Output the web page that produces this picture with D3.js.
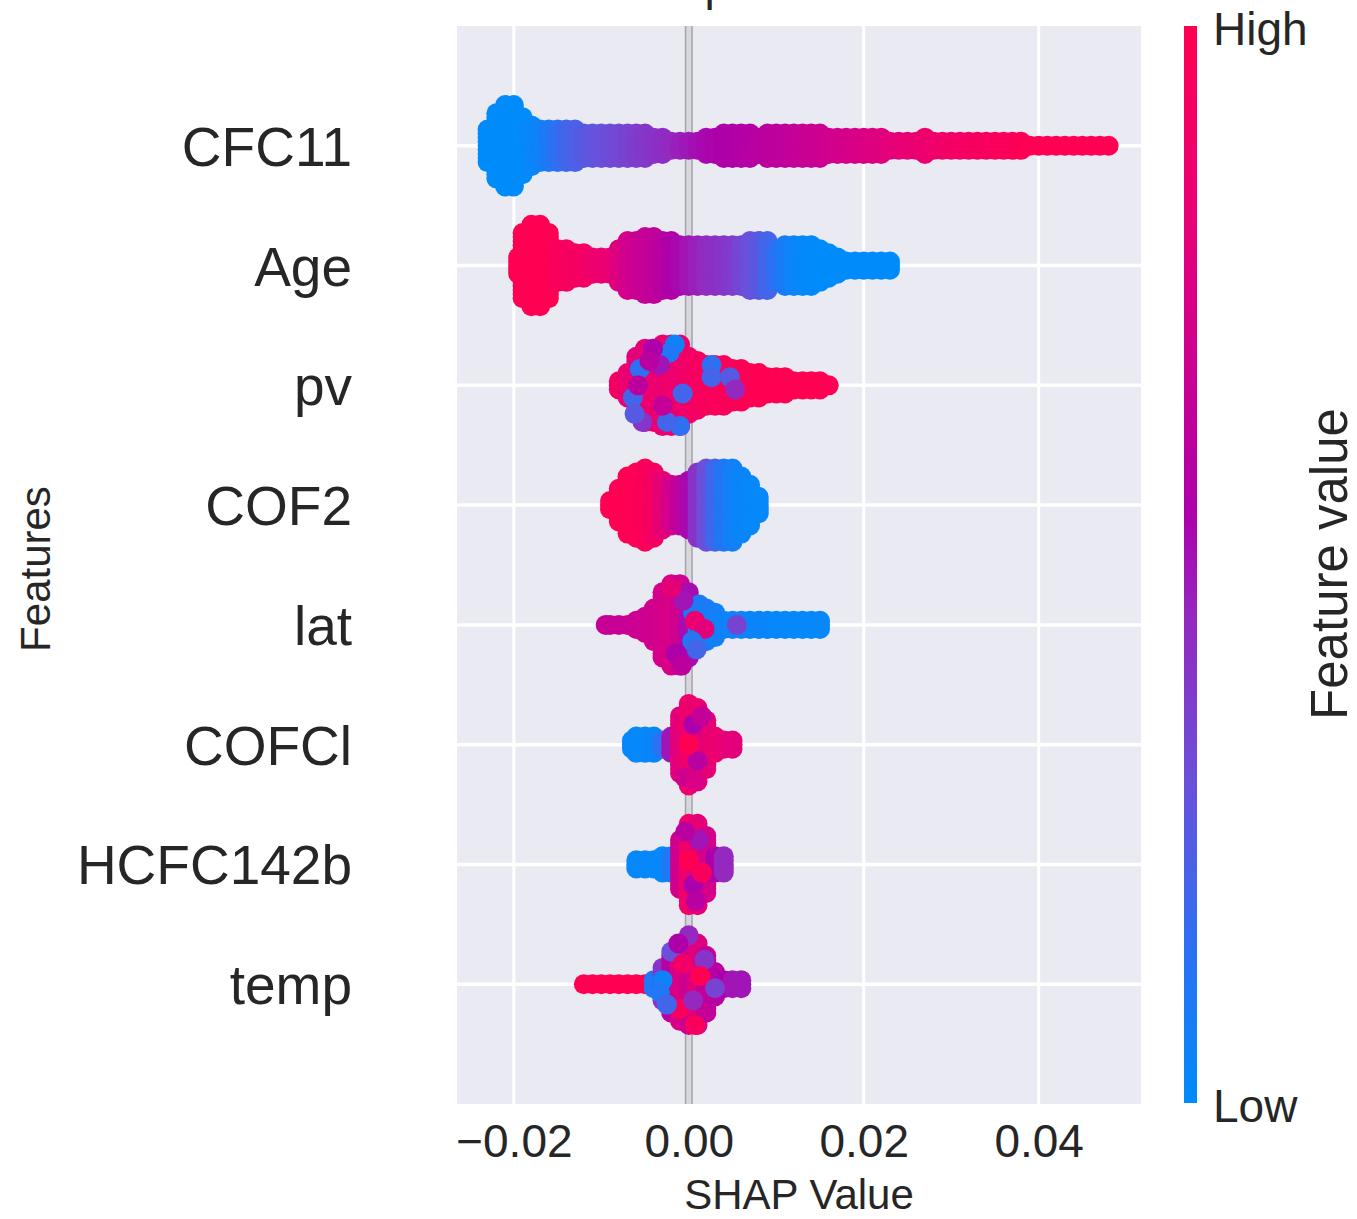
<!DOCTYPE html>
<html>
<head>
<meta charset="utf-8">
<script src="https://cdn.jsdelivr.net/npm/d3@7"></script>
<style>
  body { margin: 0; background: #ffffff; }
  text { font-family: "Liberation Sans", Arial, sans-serif; fill: #262626; }
</style>
</head>
<body>
<svg id="chart" width="1357" height="1219"></svg>
<script>
// Features, top to bottom
const features = ["CFC11", "Age", "pv", "COF2", "lat", "COFCl", "HCFC142b", "temp"];
const xTicks = [-0.02, 0.00, 0.02, 0.04];
const xTickLabels = ["\u22120.02", "0.00", "0.02", "0.04"];
const colorbarLabels = ["Low", "High"];

// Colour ramp for the normalised feature value (low -> high)
const rampStops = [0, 0.15, 0.3, 0.45, 0.55, 0.7, 0.85, 1];
const rampColors = ["#008bfb", "#2f6ff2", "#6a50da", "#9428bf", "#ad00aa", "#d0008f", "#ec0070", "#ff0052"];

// Beeswarm columns: [SHAP value, samples stacked in the bin, normalised feature value]
const cfc11 = [
  [-0.023,9,0],[-0.022,17,0],[-0.021,21,0],[-0.020,21,0],[-0.019,15,0],[-0.018,11,0.02],
  [-0.017,9,0.05],[-0.016,9,0.09],[-0.015,9,0.14],[-0.014,9,0.19],[-0.013,9,0.22],[-0.012,7,0.25],
  [-0.011,7,0.27],[-0.010,7,0.29],[-0.009,7,0.31],[-0.008,7,0.33],[-0.007,7,0.35],[-0.006,7,0.37],
  [-0.005,7,0.39],[-0.004,5,0.41],[-0.003,5,0.43],[-0.002,3,0.45],[-0.001,3,0.47],[0.000,3,0.49],
  [0.001,3,0.51],[0.002,5,0.53],[0.003,5,0.54],[0.004,7,0.55],[0.005,7,0.56],[0.006,7,0.57],
  [0.007,7,0.58],[0.008,5,0.6],[0.009,7,0.61],[0.010,7,0.62],[0.011,7,0.63],[0.012,7,0.64],
  [0.013,7,0.66],[0.014,7,0.67],[0.015,7,0.68],[0.016,5,0.7],[0.017,5,0.71],[0.018,5,0.72],
  [0.019,5,0.74],[0.020,5,0.75],[0.021,5,0.77],[0.022,5,0.78],[0.023,3,0.8],[0.024,3,0.81],
  [0.025,3,0.83],[0.026,3,0.84],[0.027,5,0.86],[0.028,3,0.87],[0.029,3,0.88],[0.030,3,0.9],
  [0.031,3,0.91],[0.032,3,0.92],[0.033,3,0.93],[0.034,3,0.94],[0.035,3,0.95],[0.036,3,0.96],
  [0.037,3,0.97],[0.038,3,0.98],[0.039,1,0.99],[0.040,1,1],[0.041,1,1],[0.042,1,1],
  [0.043,1,1],[0.044,1,1],[0.045,1,1],[0.046,1,1],[0.047,1,1],[0.048,1,1]
];
const age = [
  [-0.0195,5,1],[-0.019,17,1],[-0.018,21,1],[-0.017,21,1],[-0.016,17,1],[-0.015,9,0.95],
  [-0.014,9,0.94],[-0.013,7,0.93],[-0.012,7,0.92],[-0.011,5,0.88],[-0.010,5,0.86],[-0.009,5,0.84],
  [-0.008,9,0.78],[-0.007,13,0.72],[-0.006,13,0.68],[-0.005,15,0.66],[-0.004,15,0.64],[-0.003,13,0.6],
  [-0.002,13,0.56],[-0.001,11,0.53],[0.000,11,0.5],[0.001,11,0.47],[0.002,11,0.44],[0.003,11,0.42],
  [0.004,11,0.4],[0.005,11,0.38],[0.006,11,0.34],[0.007,13,0.3],[0.008,13,0.26],[0.009,13,0.2],
  [0.010,9,0.14],[0.011,11,0.08],[0.012,11,0.04],[0.013,11,0.02],[0.014,11,0.01],[0.015,9,0],
  [0.016,7,0],[0.017,5,0],[0.018,3,0],[0.019,3,0],[0.020,3,0],[0.021,3,0],[0.022,3,0],[0.023,3,0]
];
const pv = [
  [-0.008,3,0.92],[-0.007,7,0.85],[-0.006,15,0.8],[-0.005,19,0.82],[-0.004,19,0.86],[-0.003,21,0.84],
  [-0.002,21,0.88],[-0.001,21,0.86],[0.000,15,0.9],[0.001,13,0.92],[0.002,11,0.94],[0.003,11,0.95],
  [0.004,11,0.96],[0.005,9,0.97],[0.006,9,0.98],[0.007,7,0.99],[0.008,7,1],[0.009,5,1],
  [0.010,5,1],[0.011,5,1],[0.012,3,1],[0.013,3,1],[0.014,3,1],[0.015,3,1],[0.016,1,1]
];
const cof2 = [
  [-0.009,3,1],[-0.008,9,1],[-0.007,15,1],[-0.006,17,0.99],[-0.005,19,0.97],[-0.004,17,0.92],
  [-0.003,13,0.82],[-0.002,11,0.72],[-0.001,11,0.63],[0.000,13,0.53],[0.001,17,0.41],[0.002,19,0.3],
  [0.003,19,0.19],[0.004,19,0.11],[0.005,19,0.06],[0.006,15,0.03],[0.007,11,0.02],[0.008,5,0.02]
];
const lat = [
  [-0.0095,1,0.66],[-0.009,1,0.66],[-0.008,1,0.67],[-0.007,1,0.67],[-0.006,3,0.68],[-0.005,5,0.69],
  [-0.004,9,0.7],[-0.003,17,0.72],[-0.002,21,0.74],[-0.001,21,0.7],[0.000,17,0.52],[0.001,9,0.14],
  [0.002,9,0.08],[0.003,7,0.06],[0.004,3,0.05],[0.005,3,0.04],[0.006,3,0.04],[0.007,3,0.03],
  [0.008,3,0.03],[0.009,3,0.03],[0.010,3,0.02],[0.011,3,0.02],[0.012,3,0.02],[0.013,3,0.02],
  [0.014,3,0.02],[0.015,3,0.02]
];
const cofcl = [
  [-0.0065,3,0.02],[-0.006,5,0.02],[-0.005,5,0.02],[-0.004,5,0.03],[-0.003,3,0.15],[-0.002,5,0.5],
  [-0.001,15,0.8],[0.000,21,0.88],[0.001,19,0.85],[0.002,13,0.82],[0.003,5,0.85],[0.004,3,0.83],
  [0.005,3,0.8]
];
const hcfc142b = [
  [-0.006,3,0.02],[-0.005,3,0.02],[-0.004,3,0.02],[-0.003,5,0.02],[-0.002,5,0.1],[-0.001,13,0.7],
  [0.000,21,0.88],[0.001,21,0.82],[0.002,15,0.72],[0.003,5,0.55],[0.004,5,0.45]
];
const temp = [
  [-0.012,1,1],[-0.011,1,1],[-0.010,1,1],[-0.009,1,1],[-0.008,1,1],[-0.007,1,1],
  [-0.006,1,1],[-0.005,1,1],[-0.004,3,0.1],[-0.003,9,0.4],[-0.002,15,0.6],[-0.001,19,0.75],
  [0.000,21,0.7],[0.001,21,0.78],[0.002,15,0.65],[0.003,7,0.6],[0.004,3,0.55],[0.005,3,0.5],
  [0.006,3,0.5]
];

// Individual samples whose colour stands out from their bin: [SHAP value, stack layer, feature value]
const pvOdd = [
  [-0.0016,10,0.05],[-0.0022,8,0.1],[-0.0056,4,0.15],[-0.0033,5,0.5],[0.0026,5,0.15],[0.0026,2,0.2],
  [0.0047,2,0.25],[0.0053,-1,0.45],[-0.0064,-3,0.2],[-0.001,-10,0.15],[-0.0007,-2,0.2],[-0.0053,-9,0.4],
  [-0.0062,-7,0.25],[-0.0025,-9,0.2],[-0.0041,9,0.55],[-0.0045,6,0.6],[-0.003,-5,0.65],[-0.0058,0,0.62]
];
const cof2Odd = [];
const latOdd = [
  [0.0005,3,0.1],[0.0012,5,0.08],[0.0007,1,0.85],[0.0018,-1,0.8],[-0.0006,6,0.5],[-0.002,9,0.82],
  [0.0004,-4,0.12],[0.0009,-6,0.2],[-0.0015,-7,0.55],[0.0055,0,0.35],[-0.0008,-10,0.62]
];
const cofclOdd = [
  [0.0005,5,0.55],[0.001,-4,0.6],[0.000,0,1],[-0.0005,-8,0.7],[0.0015,7,0.65],[0.0008,-9,0.75]
];
const hcfc142bOdd = [
  [0.0005,-5,0.55],[0.0012,6,0.5],[0.000,1,1],[0.0008,-9,0.6],[-0.0004,8,0.6],[0.0015,-2,0.95]
];
const tempOdd = [
  [-0.003,1,0.05],[-0.0033,-2,0.1],[-0.002,8,0.3],[0.000,12,0.45],[0.0018,6,0.4],[-0.001,-6,0.95],
  [0.0007,-10,0.95],[0.0013,2,1],[-0.0007,5,0.9],[0.003,-1,0.35],[-0.0025,-5,0.2],[0.0005,-4,0.45],
  [-0.0012,10,0.55]
];

const columns = [cfc11, age, pv, cof2, lat, cofcl, hcfc142b, temp];
const oddOnes = [[], [], pvOdd, cof2Odd, latOdd, cofclOdd, hcfc142bOdd, tempOdd];

// ---- layout ----
const svg = d3.select("#chart");
const plot = { left: 457, right: 1141, top: 26, bottom: 1104 };
const x = d3.scaleLinear().domain([-0.0265, 0.0517]).range([plot.left, plot.right]);
const y = d3.scaleLinear().domain([-1, features.length]).range([plot.bottom, plot.top]);
const rowY = i => y(features.length - 1 - i);

const featureColor = d3.scaleLinear().domain(rampStops).range(rampColors)
  .interpolate(d3.interpolateRgb).clamp(true);

const DOT_R = 10;
const LAYER_STEP = (y(0) - y(1)) * 0.034;

// title (sits above the canvas)
svg.append("text")
  .attr("x", (plot.left + plot.right) / 2).attr("y", 0)
  .attr("text-anchor", "middle").attr("font-size", 46)
  .text("Feature Importance with SHAP");

// plot background
svg.append("rect")
  .attr("x", plot.left).attr("y", plot.top)
  .attr("width", plot.right - plot.left).attr("height", plot.bottom - plot.top)
  .attr("fill", "#eaeaf2");

const grid = svg.append("g");
grid.selectAll("line.v").data(xTicks).join("line")
  .attr("x1", d => x(d)).attr("x2", d => x(d))
  .attr("y1", plot.top).attr("y2", plot.bottom)
  .attr("stroke", "#ffffff").attr("stroke-width", 3);
grid.selectAll("line.h").data(features).join("line")
  .attr("x1", plot.left).attr("x2", plot.right)
  .attr("y1", (d, i) => rowY(i)).attr("y2", (d, i) => rowY(i))
  .attr("stroke", "#ffffff").attr("stroke-width", 3.5);

// zero reference line
svg.append("line")
  .attr("x1", x(0)).attr("x2", x(0)).attr("y1", plot.top).attr("y2", plot.bottom)
  .attr("stroke", "#a4a4a8").attr("stroke-width", 8);
svg.append("line")
  .attr("x1", x(0)).attr("x2", x(0)).attr("y1", plot.top).attr("y2", plot.bottom)
  .attr("stroke", "#d6d6dc").attr("stroke-width", 5);

// beeswarm dots
const dots = svg.append("g");
features.forEach((f, i) => {
  const cy = rowY(i);
  const pts = [];
  columns[i].forEach(([v, n, fv]) => {
    for (let k = 0; k < n; k++) {
      const layer = Math.ceil(k / 2) * (k % 2 ? 1 : -1);
      pts.push({ v, layer, fv });
    }
  });
  oddOnes[i].forEach(([v, layer, fv]) => pts.push({ v, layer, fv }));
  dots.append("g").selectAll("circle").data(pts).join("circle")
    .attr("cx", d => x(d.v))
    .attr("cy", d => cy - d.layer * LAYER_STEP)
    .attr("r", DOT_R)
    .attr("fill", d => featureColor(d.fv));
});

// y tick labels
svg.append("g").selectAll("text").data(features).join("text")
  .attr("x", 352).attr("y", (d, i) => rowY(i) + 20)
  .attr("text-anchor", "end").attr("font-size", 55)
  .text(d => d);

// x axis ticks
const xAxis = d3.axisBottom(x).tickValues(xTicks).tickSize(0)
  .tickFormat((d, i) => xTickLabels[i]);
const xg = svg.append("g").attr("transform", `translate(0,${plot.bottom})`).call(xAxis);
xg.select(".domain").remove();
xg.selectAll("text")
  .attr("y", 53).attr("dy", 0)
  .attr("font-size", 46)
  .attr("font-family", "Liberation Sans, Arial, sans-serif")
  .attr("fill", "#262626");

svg.append("text")
  .attr("x", (plot.left + plot.right) / 2).attr("y", 1209)
  .attr("text-anchor", "middle").attr("font-size", 42)
  .text("SHAP Value");

svg.append("text")
  .attr("transform", "translate(50,569) rotate(-90)")
  .attr("text-anchor", "middle").attr("font-size", 42)
  .text("Features");

// colour bar
const defs = svg.append("defs");
const grad = defs.append("linearGradient").attr("id", "fvGrad")
  .attr("x1", 0).attr("y1", 1).attr("x2", 0).attr("y2", 0);
grad.selectAll("stop").data(d3.range(0, 1.0001, 0.05)).join("stop")
  .attr("offset", d => d).attr("stop-color", d => featureColor(d));
svg.append("rect")
  .attr("x", 1184).attr("y", plot.top)
  .attr("width", 13).attr("height", plot.bottom - plot.top - 1)
  .attr("fill", "url(#fvGrad)");

svg.append("text").attr("x", 1213).attr("y", 45).attr("font-size", 46).text(colorbarLabels[1]);
svg.append("text").attr("x", 1213).attr("y", 1122).attr("font-size", 46).text(colorbarLabels[0]);
svg.append("text")
  .attr("transform", "translate(1347,564) rotate(-90)")
  .attr("text-anchor", "middle").attr("font-size", 51)
  .text("Feature value");
</script>
</body>
</html>
